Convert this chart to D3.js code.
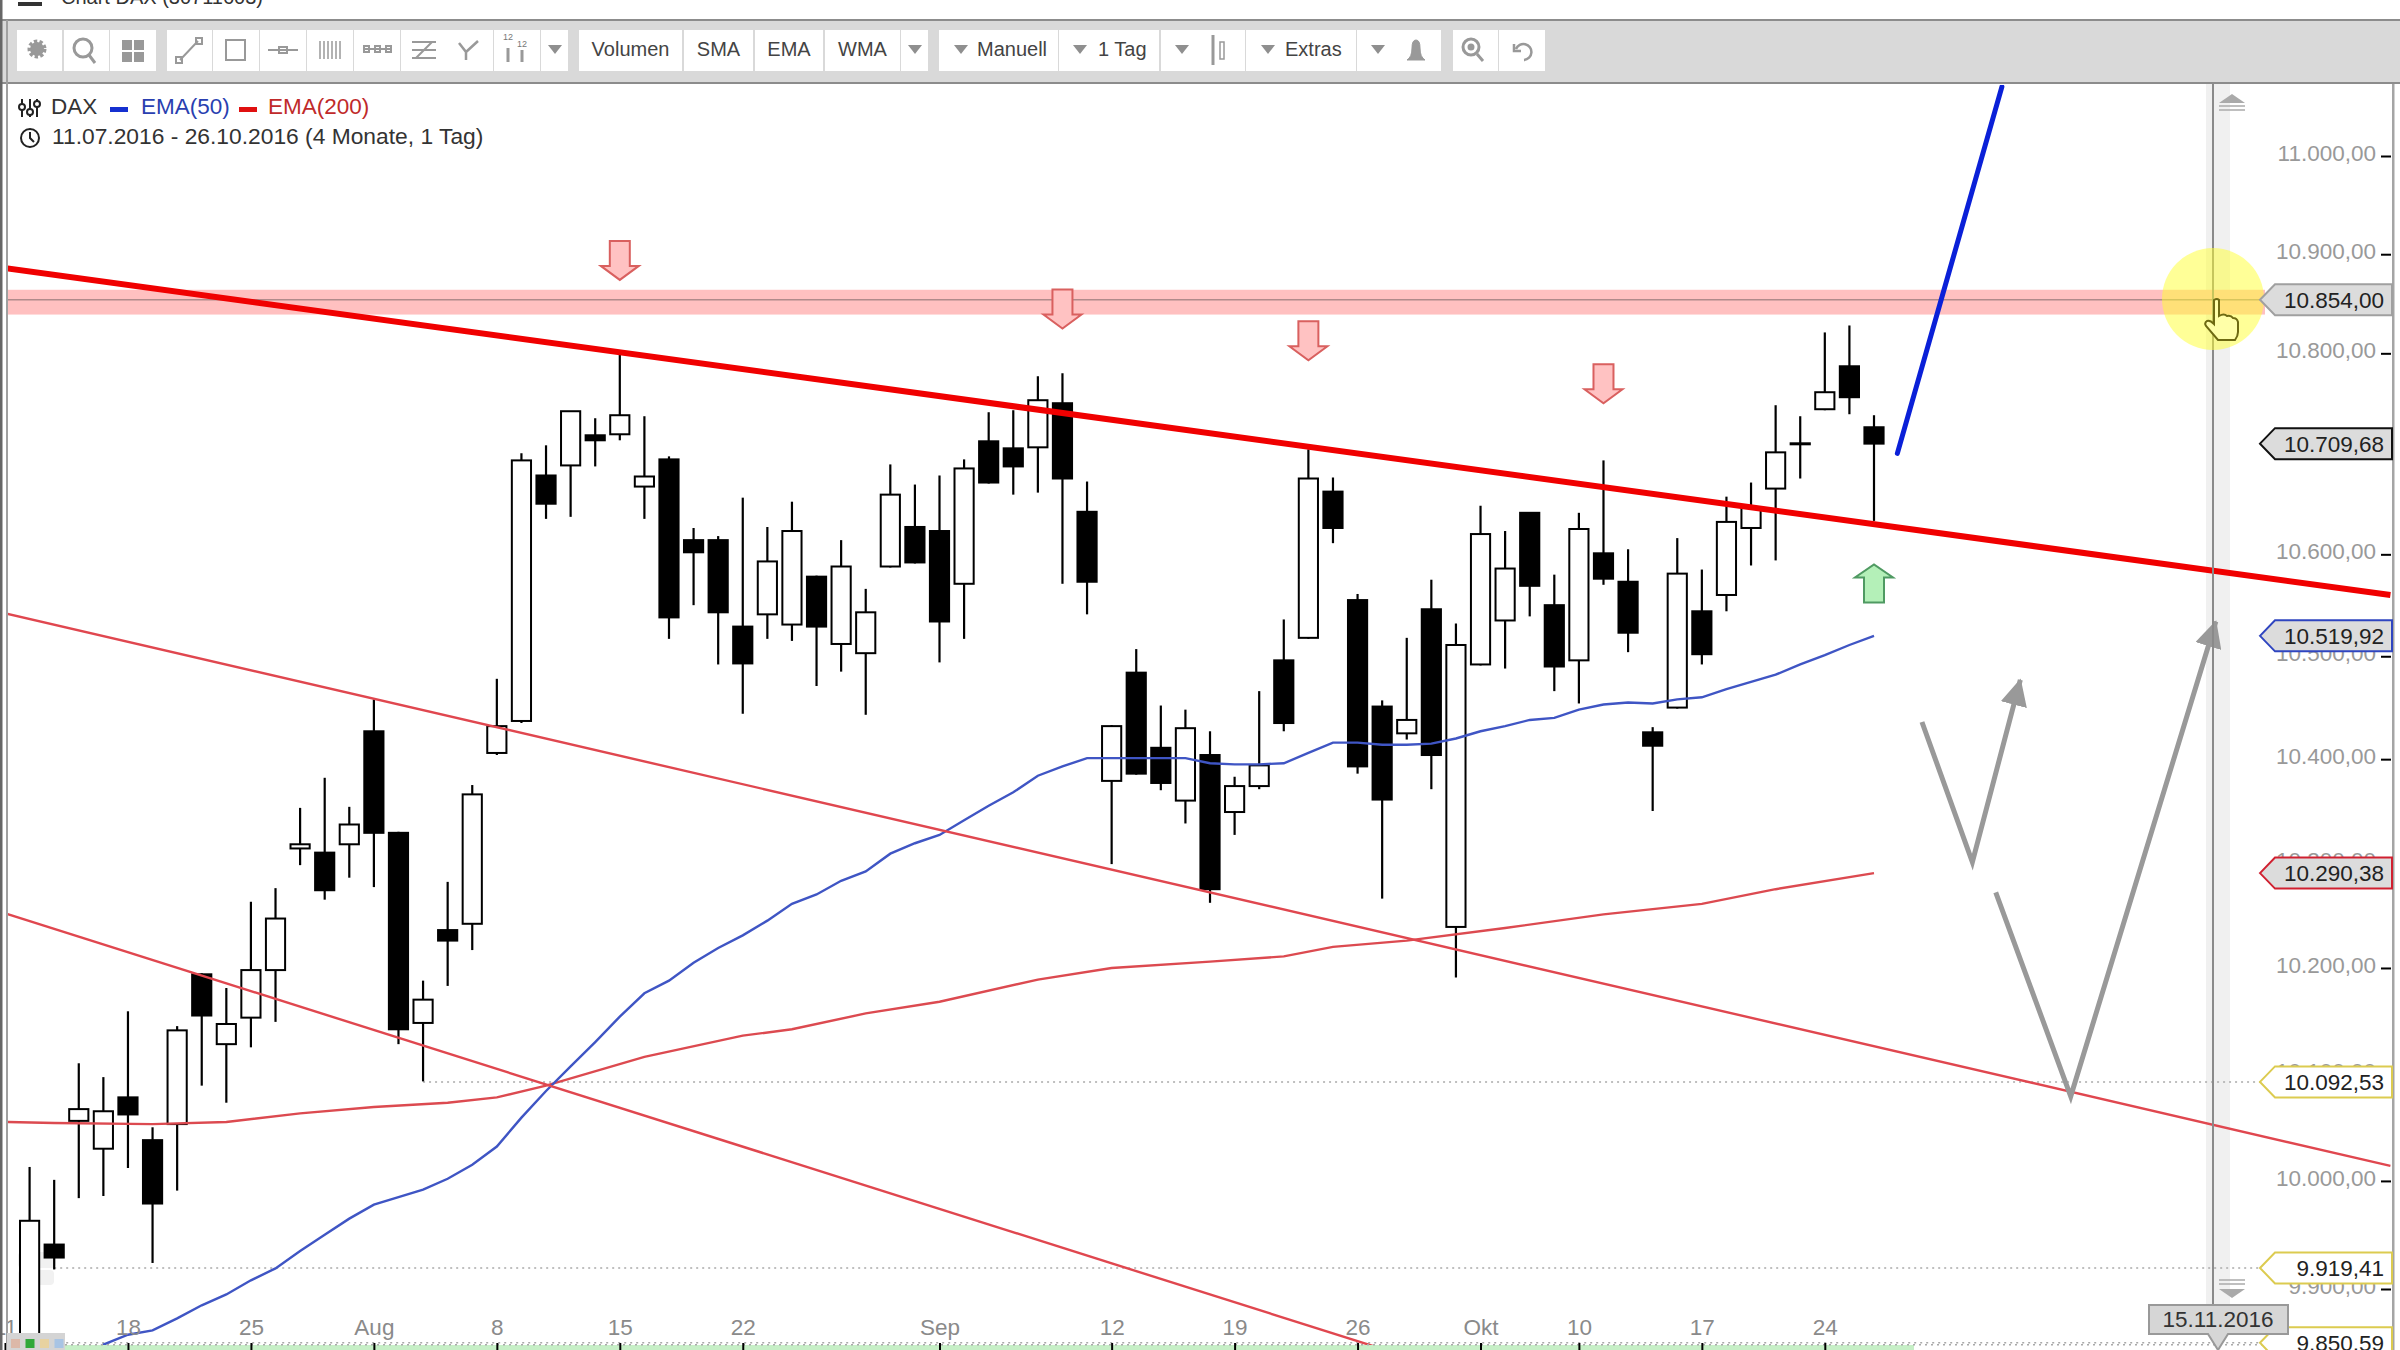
<!DOCTYPE html>
<html>
<head>
<meta charset="utf-8">
<script src="https://cdn.jsdelivr.net/npm/d3@7"></script>
<style>
  html, body { margin: 0; padding: 0; background: #fff; overflow: hidden; }
  text { font-family: "Liberation Sans", Arial, sans-serif; }
</style>
</head>
<body>
<div id="chart"></div>
<script>
// candles; the first day is hidden behind the left edge
const days = ['11.07','12.07','13.07','14.07','15.07','18.07','19.07','20.07','21.07','22.07','25.07','26.07','27.07','28.07','29.07',
  '01.08','02.08','03.08','04.08','05.08','08.08','09.08','10.08','11.08','12.08','15.08','16.08','17.08','18.08','19.08','22.08','23.08','24.08','25.08','26.08','29.08','30.08','31.08',
  '01.09','02.09','05.09','06.09','07.09','08.09','09.09','12.09','13.09','14.09','15.09','16.09','19.09','20.09','21.09','22.09','23.09','26.09','27.09','28.09','29.09','30.09',
  '04.10','05.10','06.10','07.10','10.10','11.10','12.10','13.10','14.10','17.10','18.10','19.10','20.10','21.10','24.10','25.10','26.10'];
const open = [null,9800,9941,10056,10030,10078,10038,10053,10194,10128,10153,10198,10314,10310,10318,
  10427,10329,10148,10236,10242,10406,10437,10678,10688,10718,10719,10667,10694,10614,10614,10529,10541,10531,10578,10512,10503,10588,10627,
  10623,10571,10712,10705,10706,10750,10642,10379,10484,10411,10360,10404,10349,10374,10496,10518,10662,10555,10451,10425,10546,10239,
  10492,10535,10641,10550,10496,10601,10573,10426,10450,10544,10560,10626,10665,10709,10744,10787,10726];
const high = [null,10013,10001,10110,10097,10159,10050,10145,10195,10181,10263,10276,10353,10382,10354,
  10458,10330,10188,10282,10375,10478,10700,10708,10742,10735,10801,10737,10697,10626,10618,10656,10627,10652,10579,10614,10566,10689,10669,
  10678,10694,10741,10743,10777,10780,10672,10433,10507,10452,10448,10427,10383,10466,10536,10704,10676,10561,10457,10518,10575,10532,
  10648,10623,10641,10580,10641,10693,10605,10431,10616,10585,10657,10671,10748,10737,10821,10828,10738];
const low = [null,9790,9918,9984,9986,10012,9924,9991,10089,10073,10125,10149,10298,10265,10286,
  10277,10128,10093,10183,10217,10404,10435,10635,10637,10687,10713,10635,10517,10550,10492,10444,10517,10515,10471,10485,10443,10587,10591,
  10494,10517,10670,10659,10661,10571,10541,10299,10385,10370,10338,10262,10327,10371,10427,10517,10611,10386,10266,10419,10371,10191,
  10491,10488,10539,10466,10454,10570,10504,10350,10449,10492,10544,10589,10594,10675,10743,10739,10633];
const close = [null,9963,9929,10067,10065,10062,9979,10141,10155,10147,10198,10247,10318,10274,10337,
  10329,10142,10170,10226,10366,10432,10693,10650,10742,10713,10738,10677,10538,10602,10543,10493,10593,10623,10529,10588,10543,10659,10592,
  10534,10685,10671,10687,10753,10675,10573,10432,10386,10377,10430,10275,10374,10394,10435,10675,10626,10393,10361,10438,10404,10511,
  10620,10586,10569,10490,10625,10576,10523,10413,10581,10502,10632,10646,10701,10710,10761,10756,10709.68];

// EMA(50) starts below the plot at candle 3
const ema50Start = 3;
const ema50 = [9835,9849,9858,9862,9873,9885,9895,9908,9919,9935,9950,9965,9978,9985,9992,10002,10015,10032,10059,10084,10107,10130,10154,10176,10188,10205,10219,10231,10245,10261,
  10270,10283,10292,10309,10319,10327,10341,10355,10368,10384,10393,10401,10401,10401,10401,10401,10396,10395,10395,10396,10406,10416,10416,10414,10414,10415,10420,10427,10432,10438,10440,10448,
  10453,10455,10454,10458,10460,10468,10475,10482,10492,10501,10511,10519.92];
const ema200Idx = [0,2,6,9,12,15,18,20,22,26,30,32,35,38,42,45,49,52,54,57,61,65,69,72,76];
const ema200 = [10055,10054,10053,10055,10063,10069,10073,10078,10089,10116,10136,10142,10157,10168,10189,10200,10206,10211,10220,10226,10238,10251,10261,10275,10290.38];

// drawn lines as [candle index, price]
const trendThick = [[0,10886],[97,10560]];
const trendUpper = [[0,10542],[97,10014]];
const trendLower = [[0,10252],[56,9845]];
const blueUp = [[76.95,10700],[81.2,11071]];
const smallV = [[77.95,10436],[80,10301],[81.95,10477]];
const bigV = [[80.95,10272],[84,10079],[89.9,10534]];
const downArrows = [[25,10874],[43,10825],[53,10793],[65,10750]];
const upArrows = [[76,10590]];

const resistance = 10854, bandTop = 10864, bandBottom = 10839;
const lastHigh = 10092.53, lastLow = 9919.41, floorLevel = 9850.59;
const tagValues = [10854, 10709.68, 10519.92, 10290.38, 10092.53, 9919.41, 9850.59];
const tagColors = ['#a0a0a0', '#111', '#2f45c0', '#d02030', '#dccb50', '#dccb50', '#dccb50'];
const tagFills = ['#dcdcdc', '#dcdcdc', '#dcdcdc', '#dcdcdc', '#fff', '#fff', '#fff'];

const yTicks = [9900,10000,10100,10200,10300,10400,10500,10600,10800,10900,11000];
const xTickIdx = [0,5,10,15,20,25,30,38,45,50,55,60,64,69,74];
const xTickNames = ['11','18','25','Aug','8','15','22','Sep','12','19','26','Okt','10','17','24'];

const width = 2400, height = 1350;
const svg = d3.select('#chart').append('svg').attr('width', width).attr('height', height).style('display', 'block');

const x = d3.scaleLinear().domain([0, 76]).range([5, 1874]);
const y = d3.scaleLog().domain([9900, 11000]).range([1289, 156]);
const deFormat = d3.formatLocale({decimal: ',', thousands: '.', grouping: [3], currency: ['', '']}).format(',.2f');
const line = d3.line().x(d => x(d[0])).y(d => y(d[1]));

svg.append('defs').append('clipPath').attr('id', 'plot')
  .append('rect').attr('x', 8).attr('y', 85).attr('width', 2385).attr('height', 1265);
const defs = svg.select('defs');
defs.append('marker').attr('id', 'head').attr('viewBox', '0 0 10 10').attr('refX', 9.5).attr('refY', 5)
  .attr('markerUnits', 'userSpaceOnUse').attr('markerWidth', 27).attr('markerHeight', 27).attr('orient', 'auto')
  .append('path').attr('d', 'M0,0L10,5L0,10Z').attr('fill', '#999');

// top strip + toolbar
svg.append('text').attr('x', 61).attr('y', 4).attr('font-size', 20).attr('fill', '#333').text('Chart DAX (30711603)');
svg.append('rect').attr('x', 18).attr('y', 2).attr('width', 24).attr('height', 4).attr('fill', '#333');
svg.append('rect').attr('x', 0).attr('y', 20).attr('width', width).attr('height', 64).attr('fill', '#d9d9d9');
svg.append('rect').attr('x', 0).attr('y', 19).attr('width', width).attr('height', 2).attr('fill', '#8c8c8c');
svg.append('rect').attr('x', 0).attr('y', 82).attr('width', width).attr('height', 2).attr('fill', '#8c8c8c');

const buttons = [[17,62],[64,109],[110,156],[167,212],[213,259],[260,306],[307,353],[354,400],[401,447],[447,493],[494,540],[541,568],
  [579,682,'Volumen'],[684,753,'SMA'],[755,823,'EMA'],[825,900,'WMA'],[901,928],
  [939,1058],[1059,1159],[1161,1245],[1246,1356],[1357,1441],[1453,1498],[1499,1545]];
const bar = svg.append('g');
bar.selectAll('rect').data(buttons).join('rect')
  .attr('x', d => d[0]).attr('y', 30).attr('width', d => d[1] - d[0]).attr('height', 41).attr('fill', '#fff');
bar.selectAll('text.lab').data(buttons.filter(d => d[2])).join('text').attr('class', 'lab')
  .attr('x', d => (d[0] + d[1]) / 2).attr('y', 56).attr('text-anchor', 'middle').attr('font-size', 20).attr('fill', '#444').text(d => d[2]);
const sideLabels = [[977,'Manuell'],[1098,'1 Tag'],[1285,'Extras']];
bar.selectAll('text.side').data(sideLabels).join('text').attr('class', 'side')
  .attr('x', d => d[0]).attr('y', 56).attr('font-size', 20).attr('fill', '#444').text(d => d[1]);
const dropdowns = [555,915,961,1080,1182,1268,1378];
bar.selectAll('path.tri').data(dropdowns).join('path').attr('class', 'tri')
  .attr('d', d => `M${d - 7},45h14l-7,9Z`).attr('fill', '#8f8f8f');

// toolbar icons
const ic = bar.append('g').attr('fill', 'none').attr('stroke', '#999').attr('stroke-width', 3);
ic.append('circle').attr('cx', 37).attr('cy', 49).attr('r', 7).attr('fill', '#999').attr('stroke-dasharray', '3 2').attr('stroke-width', 5);
ic.append('circle').attr('cx', 83).attr('cy', 48).attr('r', 9);
ic.append('path').attr('d', 'M89,55l6,8');
ic.append('g').attr('stroke', 'none').attr('fill', '#999').selectAll('rect').data([[122,40],[134,40],[122,52],[134,52]]).join('rect')
  .attr('x', d => d[0]).attr('y', d => d[1]).attr('width', 10).attr('height', 10);
ic.append('path').attr('d', 'M180,60L198,41M176,57h6v6h-6ZM196,38h6v6h-6Z').attr('stroke-width', 2);
ic.append('rect').attr('x', 226).attr('y', 40).attr('width', 19).attr('height', 20).attr('stroke-width', 2);
ic.append('path').attr('d', 'M268,50h30M279,47h8v6h-8Z').attr('stroke-width', 2);
ic.append('path').attr('d', 'M320,41v18M324,41v18M328,41v18M332,41v18M336,41v18M340,41v18').attr('stroke-width', 1.5);
ic.append('path').attr('d', 'M363,49h28M364,46h5v6h-5ZM375,46h5v6h-5ZM386,46h5v6h-5Z').attr('stroke-width', 2);
ic.append('path').attr('d', 'M412,42h24M412,50h24M412,58h24M416,58L432,42').attr('stroke-width', 2);
ic.append('path').attr('d', 'M459,43L466,52V60M466,52L478,41').attr('stroke-width', 2.5);
ic.append('path').attr('d', 'M508,48v14M522,50v12').attr('stroke-width', 3);
bar.selectAll('text.num').data([[508,40],[522,47]]).join('text').attr('class', 'num').attr('x', d => d[0]).attr('y', d => d[1])
  .attr('text-anchor', 'middle').attr('font-size', 9).attr('fill', '#777').text('12');
ic.append('path').attr('d', 'M1213,35v30').attr('stroke-width', 3);
ic.append('rect').attr('x', 1220).attr('y', 42).attr('width', 4).attr('height', 17).attr('stroke-width', 1.5);
ic.append('path').attr('d', 'M1407,60q5,-3 5,-12q0,-8 4,-8q4,0 4,8q0,9 5,12Z').attr('fill', '#999').attr('stroke', '#999').attr('stroke-width', 1);
ic.append('circle').attr('cx', 1471).attr('cy', 47).attr('r', 8);
ic.append('circle').attr('cx', 1471).attr('cy', 47).attr('r', 2).attr('fill', '#999');
ic.append('path').attr('d', 'M1477,54l6,7');
ic.append('path').attr('d', 'M1516,49a8,8 0 1 1 8,11M1514,44v7h7').attr('stroke-width', 2.5);

// plot chrome behind the marks
svg.append('rect').attr('x', 2206).attr('y', 84).attr('width', 24).attr('height', 1230).attr('fill', '#f0f0f0');
svg.append('rect').attr('x', 18).attr('y', 1252).attr('width', 38).attr('height', 16).attr('rx', 4).attr('fill', '#f1f1f1');
svg.append('rect').attr('x', 18).attr('y', 1270).attr('width', 36).attr('height', 15).attr('rx', 4).attr('fill', '#f1f1f1');

const plot = svg.append('g').attr('clip-path', 'url(#plot)');
plot.append('rect').attr('x', x(0)).attr('width', 2265 - x(0)).attr('y', y(bandTop)).attr('height', y(bandBottom) - y(bandTop)).attr('fill', '#ffc0c0');
plot.append('line').attr('x1', x(0)).attr('x2', 2265).attr('y1', y(resistance)).attr('y2', y(resistance)).attr('stroke', '#b08a8a').attr('stroke-width', 1.5);

const hLines = [[lastHigh, 17], [lastLow, 2], [floorLevel, 2]];
plot.selectAll('line.level').data(hLines).join('line').attr('class', 'level')
  .attr('x1', d => x(d[1])).attr('x2', 2262).attr('y1', d => y(d[0])).attr('y2', d => y(d[0]))
  .attr('stroke', '#aaa').attr('stroke-width', 1.5).attr('stroke-dasharray', '2 4');

// candles
const step = x(1) - x(0);
const candles = plot.append('g').selectAll('g').data(d3.range(days.length).filter(i => open[i] !== null)).join('g');
candles.append('line').attr('x1', i => x(i)).attr('x2', i => x(i)).attr('y1', i => y(high[i])).attr('y2', i => y(low[i]))
  .attr('stroke', '#000').attr('stroke-width', 2.2);
candles.append('rect').attr('x', i => x(i) - step * 0.39).attr('width', step * 0.78)
  .attr('y', i => y(Math.max(open[i], close[i])))
  .attr('height', i => Math.abs(y(open[i]) - y(close[i])))
  .attr('fill', i => close[i] >= open[i] ? '#fff' : '#000')
  .attr('stroke', '#000').attr('stroke-width', 2);

// indicators and drawn lines
plot.append('path').attr('d', line(ema200.map((v, i) => [ema200Idx[i], v]))).attr('fill', 'none').attr('stroke', '#dc4a50').attr('stroke-width', 2.4);
plot.append('path').attr('d', line(ema50.map((v, i) => [ema50Start + i, v]))).attr('fill', 'none').attr('stroke', '#3f55c4').attr('stroke-width', 2.4);
plot.append('path').attr('d', line(trendUpper)).attr('stroke', '#e0474f').attr('stroke-width', 2.4);
plot.append('path').attr('d', line(trendLower)).attr('stroke', '#e0474f').attr('stroke-width', 2.4);
plot.append('path').attr('d', line(trendThick)).attr('stroke', '#f00000').attr('stroke-width', 6);
plot.append('path').attr('d', line(blueUp)).attr('stroke', '#0a20d8').attr('stroke-width', 5).attr('stroke-linecap', 'round');
plot.append('path').attr('d', line(smallV)).attr('fill', 'none').attr('stroke', '#999').attr('stroke-width', 5).attr('marker-end', 'url(#head)');
plot.append('path').attr('d', line(bigV)).attr('fill', 'none').attr('stroke', '#999').attr('stroke-width', 5).attr('marker-end', 'url(#head)');

// signal arrows: tip at the value, shape fixed in pixels
const arrowDown = 'M-10,-39h20v25h9L0,0L-19,-14h9Z';
plot.selectAll('path.down').data(downArrows).join('path').attr('class', 'down').attr('d', arrowDown)
  .attr('transform', d => `translate(${x(d[0])},${y(d[1])})`).attr('fill', '#ffc2c2').attr('stroke', '#d9605f').attr('stroke-width', 2);
plot.selectAll('path.up').data(upArrows).join('path').attr('class', 'up').attr('d', 'M-10,38h20v-25h9L0,0L-19,13h9Z')
  .attr('transform', d => `translate(${x(d[0])},${y(d[1])})`).attr('fill', '#b4f0b8').attr('stroke', '#4f9a62').attr('stroke-width', 2);

// green strip under the last low
svg.append('rect').attr('x', 65).attr('y', 1345).attr('width', x(76) - 25).attr('height', 5).attr('fill', '#c6efc6');
svg.append('line').attr('x1', 65).attr('x2', 2262).attr('y1', y(floorLevel) + 2).attr('y2', y(floorLevel) + 2)
  .attr('stroke', '#aaa').attr('stroke-width', 1.5).attr('stroke-dasharray', '2 4');

// date axis
const xAxis = d3.axisBottom(x).tickValues(xTickIdx).tickSizeInner(-7).tickSizeOuter(0).tickFormat((d, i) => xTickNames[i]);
const xg = svg.append('g').attr('transform', 'translate(0,1350)').call(xAxis);
xg.select('.domain').remove();
xg.selectAll('.tick line').attr('stroke', '#000').attr('stroke-width', 2);
xg.selectAll('.tick text').attr('y', -15).attr('dy', 0).attr('font-size', 22.5).attr('font-family', null).attr('fill', '#8a8a8a');

// price axis
const yAxis = d3.axisLeft(y).tickValues(yTicks).tickSizeInner(10).tickSizeOuter(0).tickPadding(5).tickFormat(d => deFormat(d));
const yg = svg.append('g').attr('transform', 'translate(2391,0)').call(yAxis);
yg.select('.domain').remove();
yg.selectAll('.tick line').attr('stroke', '#000').attr('stroke-width', 2);
yg.selectAll('.tick text').attr('dy', '.2em').attr('font-size', 22.5).attr('font-family', null).attr('fill', '#999');

svg.append('rect').attr('x', 2393).attr('y', 84).attr('width', 7).attr('height', 1266).attr('fill', '#fff');
svg.append('rect').attr('x', 2392).attr('y', 84).attr('width', 2.5).attr('height', 1266).attr('fill', '#a5a5a5');
svg.append('rect').attr('x', 0).attr('y', 0).attr('width', 2.5).attr('height', height).attr('fill', '#666');
svg.append('rect').attr('x', 6).attr('y', 20).attr('width', 2).attr('height', height - 20).attr('fill', '#a0a0a0');

// scroll bar with the current-bar marker
svg.append('rect').attr('x', 2212).attr('y', 84).attr('width', 2).attr('height', 1225).attr('fill', '#8a8a8a');
svg.append('path').attr('d', 'M2232,94l13,9h-26Z').attr('fill', '#aaa');
svg.append('path').attr('d', 'M2219,106h26M2219,110h26').attr('stroke', '#aaa').attr('stroke-width', 1.5);
svg.append('path').attr('d', 'M2232,1298l13,-9h-26Z').attr('fill', '#aaa');
svg.append('path').attr('d', 'M2219,1280h26M2219,1284h26').attr('stroke', '#aaa').attr('stroke-width', 1.5);

// cursor highlight and hand
svg.append('circle').attr('cx', 2213).attr('cy', 299).attr('r', 51).attr('fill', '#ffff30').attr('opacity', 0.5);
svg.append('path').attr('transform', 'translate(2206,300)')
  .attr('d', 'M8,0q3,-2 5,0v16q5,-3 8,0q4,-1 6,2q4,0 5,4v10q0,4 -3,8h-17l-12,-14q-2,-3 1,-5q3,-1 7,3Z')
  .attr('fill', '#ffffa8').attr('stroke', '#6e6a12').attr('stroke-width', 2);

// price tags
const tags = svg.append('g').selectAll('g').data(tagValues).join('g').attr('transform', d => `translate(0,${y(d)})`);
tags.append('path').attr('d', 'M2260,0L2275,-15.5H2392V15.5H2275Z')
  .attr('fill', (d, i) => tagFills[i]).attr('stroke', (d, i) => tagColors[i]).attr('stroke-width', 2);
tags.append('text').attr('x', 2384).attr('dy', '.36em').attr('text-anchor', 'end').attr('font-size', 22.5).attr('fill', '#222').text(d => deFormat(d));

// date flag
svg.append('path').attr('d', 'M2149,1305h139v29h-60l-10,16l-10,-16h-59Z').attr('fill', '#d6d6d6').attr('stroke', '#999').attr('stroke-width', 2);
svg.append('text').attr('x', 2218).attr('y', 1327).attr('text-anchor', 'middle').attr('font-size', 22.5).attr('fill', '#333').text('15.11.2016');

// small box bottom left
svg.append('rect').attr('x', 7).attr('y', 1333).attr('width', 58).attr('height', 17).attr('fill', '#d4d4d4');
const boxColors = ['#dcb8a8', '#2fa83a', '#e8d2a0', '#a8c4e4'];
svg.selectAll('rect.sq').data(boxColors).join('rect').attr('class', 'sq')
  .attr('x', (d, i) => 11 + i * 14.5).attr('y', 1339).attr('width', 9).attr('height', 9).attr('fill', d => d);

// legend
const lg = svg.append('g').attr('font-size', 22.5);
lg.append('text').attr('x', 51).attr('y', 114).attr('fill', '#333').text('DAX');
lg.append('rect').attr('x', 110).attr('y', 107).attr('width', 18).attr('height', 5).attr('fill', '#1530d0');
lg.append('text').attr('x', 141).attr('y', 114).attr('fill', '#2a3fb0').text('EMA(50)');
lg.append('rect').attr('x', 239).attr('y', 107).attr('width', 18).attr('height', 5).attr('fill', '#e01010');
lg.append('text').attr('x', 268).attr('y', 114).attr('fill', '#c02a2a').text('EMA(200)');
lg.append('text').attr('x', 52).attr('y', 144).attr('fill', '#333').attr('font-size', 22.8).text('11.07.2016 - 26.10.2016 (4 Monate, 1 Tag)');
const li = svg.append('g').attr('fill', 'none').attr('stroke', '#222').attr('stroke-width', 2);
li.append('path').attr('d', 'M22,99v18M30,99v18M37,99v18');
li.append('g').attr('fill', '#fff').selectAll('circle').data([[22,107],[30,112],[37,104]]).join('circle')
  .attr('cx', d => d[0]).attr('cy', d => d[1]).attr('r', 3);
li.append('circle').attr('cx', 30).attr('cy', 138).attr('r', 9);
li.append('path').attr('d', 'M30,132v6l4,4');
</script>
</body>
</html>
